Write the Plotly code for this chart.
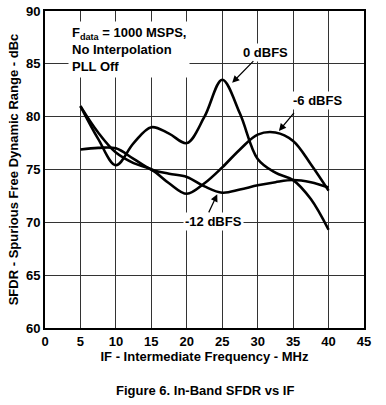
import plotly.graph_objects as go

# ---- data ----
freq_mhz = [5, 7.5, 10, 12.5, 15, 17.5, 20, 22.5, 25, 27.5, 30, 32.5, 35, 37.5, 40]
sfdr_0dbfs = [81.0, 77.9, 75.4, 77.5, 79.0, 78.4, 77.5, 80.0, 83.5, 80.3, 76.0, 74.7, 74.0, 72.2, 69.3]
sfdr_m6dbfs = [81.0, 78.5, 76.6, 75.6, 75.0, 73.7, 72.7, 73.7, 75.2, 76.9, 78.3, 78.5, 77.7, 75.5, 73.0]
sfdr_m12dbfs = [76.9, 77.05, 77.0, 76.0, 75.0, 74.6, 74.3, 73.4, 72.8, 73.1, 73.5, 73.8, 74.0, 73.8, 73.3]

x_ticks = [0, 5, 10, 15, 20, 25, 30, 35, 40, 45]
y_ticks = [60, 65, 70, 75, 80, 85, 90]

FONT = "Arial, Liberation Sans, sans-serif"

W, H = 386, 405
ML, MR, MT, MB = 45, 22, 11, 77

fig = go.Figure()
for ys in (sfdr_0dbfs, sfdr_m6dbfs, sfdr_m12dbfs):
    fig.add_trace(go.Scatter(x=freq_mhz, y=ys, mode="lines",
                             line=dict(color="black", width=2.6, shape="spline", smoothing=1.0),
                             showlegend=False, hoverinfo="skip"))

ann = []
ann.append(dict(x=3.3, y=89.1, xref="x", yref="y", xanchor="left", yanchor="top", align="left",
                text="<b>F<sub>data</sub> = 1000 MSPS,<br>No Interpolation<br>PLL Off</b>",
                showarrow=False, bgcolor="white", borderpad=3, font=dict(size=13, color="black", family=FONT)))
ann.append(dict(x=31.1, y=86.1, xref="x", yref="y", text="<b>0 dBFS</b>", showarrow=False,
                bgcolor="white", borderpad=1, font=dict(size=13, color="black", family=FONT)))
ann.append(dict(x=38.5, y=81.5, xref="x", yref="y", text="<b>-6 dBFS</b>", showarrow=False,
                bgcolor="white", borderpad=1, font=dict(size=13, color="black", family=FONT)))
ann.append(dict(x=23.8, y=70.05, xref="x", yref="y", text="<b>-12 dBFS</b>", showarrow=False,
                bgcolor="white", borderpad=1, font=dict(size=13, color="black", family=FONT)))
for tip, tail in [((26.4, 83.2), (29.6, 85.4)), ((33.0, 78.65), (35.3, 80.5)), ((24.3, 72.65), (23.0, 70.8))]:
    ann.append(dict(x=tip[0], y=tip[1], ax=tail[0], ay=tail[1], xref="x", yref="y", axref="x", ayref="y",
                    text="", showarrow=True, arrowhead=2, arrowsize=1.2, arrowwidth=1.2, arrowcolor="black"))
# caption at page y ~390
cap_y = (H - MB - 390) / (H - MT - MB)
ann.append(dict(x=0.5, y=cap_y, xref="paper", yref="paper", yanchor="middle",
                text="<b>Figure 6. In-Band SFDR vs IF</b>", showarrow=False,
                font=dict(size=13, color="black", family=FONT)))

fig.update_layout(
    width=W, height=H,
    margin=dict(l=ML, r=MR, t=MT, b=MB, autoexpand=False),
    paper_bgcolor="white", plot_bgcolor="white",
    font=dict(family=FONT, size=13, color="black"),
    annotations=ann,
    hovermode=False,
    xaxis=dict(range=[0, 45], tickvals=x_ticks, ticktext=[f"<b>{v}</b>" for v in x_ticks],
               showgrid=True, gridcolor="#333", gridwidth=1, zeroline=False,
               showline=True, linecolor="black", linewidth=2, mirror=True,
               ticks="", ticklen=0, automargin=False,
               title=dict(text="<b>IF - Intermediate Frequency - MHz</b>", standoff=4,
                          font=dict(size=13, family=FONT, color="black"))),
    yaxis=dict(range=[60, 90], tickvals=y_ticks, ticktext=[f"<b>{v}</b>" for v in y_ticks],
               showgrid=True, gridcolor="#333", gridwidth=1, zeroline=False,
               showline=True, linecolor="black", linewidth=2, mirror=True,
               ticks="", ticklen=0, automargin=False, ticklabeloverflow="allow",
               title=dict(text="<b>SFDR - Spurious Free Dynamic Range - dBc</b>", standoff=4,
                          font=dict(size=13, family=FONT, color="black"))),
)

fig.write_html("out.html", config={"displayModeBar": False, "staticPlot": True},
               post_script="document.body.style.margin='0px';document.body.style.overflow='hidden';")
